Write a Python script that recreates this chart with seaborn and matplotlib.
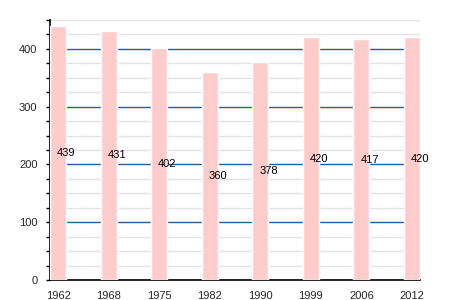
import matplotlib
matplotlib.use("Agg")
import matplotlib.pyplot as plt
import seaborn as sns
import pandas as pd
from matplotlib.ticker import MultipleLocator

years = ["1962", "1968", "1975", "1982", "1990", "1999", "2006", "2012"]
population = [439, 431, 402, 360, 378, 420, 417, 420]

df = pd.DataFrame({"year": years, "pop": population})

sns.set_theme(style="white")
plt.rcParams["font.family"] = ["Liberation Sans", "DejaVu Sans"]

fig = plt.figure(figsize=(4.5, 3), dpi=100)
ax = fig.add_axes([50/450, 20/300, 370/450, 260/300])

sns.barplot(data=df, x="year", y="pop", color="#ffcccc", saturation=1,
            width=0.32, ax=ax, zorder=3)

ax.set_ylim(0, 450)
ax.set_xlim(-0.16, 7.16)
ax.yaxis.set_major_locator(MultipleLocator(100))
ax.yaxis.set_minor_locator(MultipleLocator(25))
ax.grid(which="minor", axis="y", color="#e3e3e3", linewidth=1, zorder=0)
ax.grid(which="major", axis="y", color="#1f5f95", linewidth=1, zorder=1)
ax.set_axisbelow(True)

for s in ["top", "right"]:
    ax.spines[s].set_visible(False)
for s in ["left", "bottom"]:
    ax.spines[s].set_color("black")
    ax.spines[s].set_linewidth(1.2)

ax.tick_params(axis="y", which="both", left=True, direction="out", length=3,
               width=1, color="black", labelsize=8, pad=6)
ax.tick_params(axis="y", which="minor", length=3)
ax.tick_params(axis="x", bottom=False, labelsize=8, pad=2)
ax.set_xlabel("")
ax.set_ylabel("")

for i, v in enumerate(population):
    ax.text(i - 0.02, v / 2, str(v), ha="left", va="center", fontsize=8,
            color="black", zorder=5)

fig.savefig("out.png", dpi=100)
